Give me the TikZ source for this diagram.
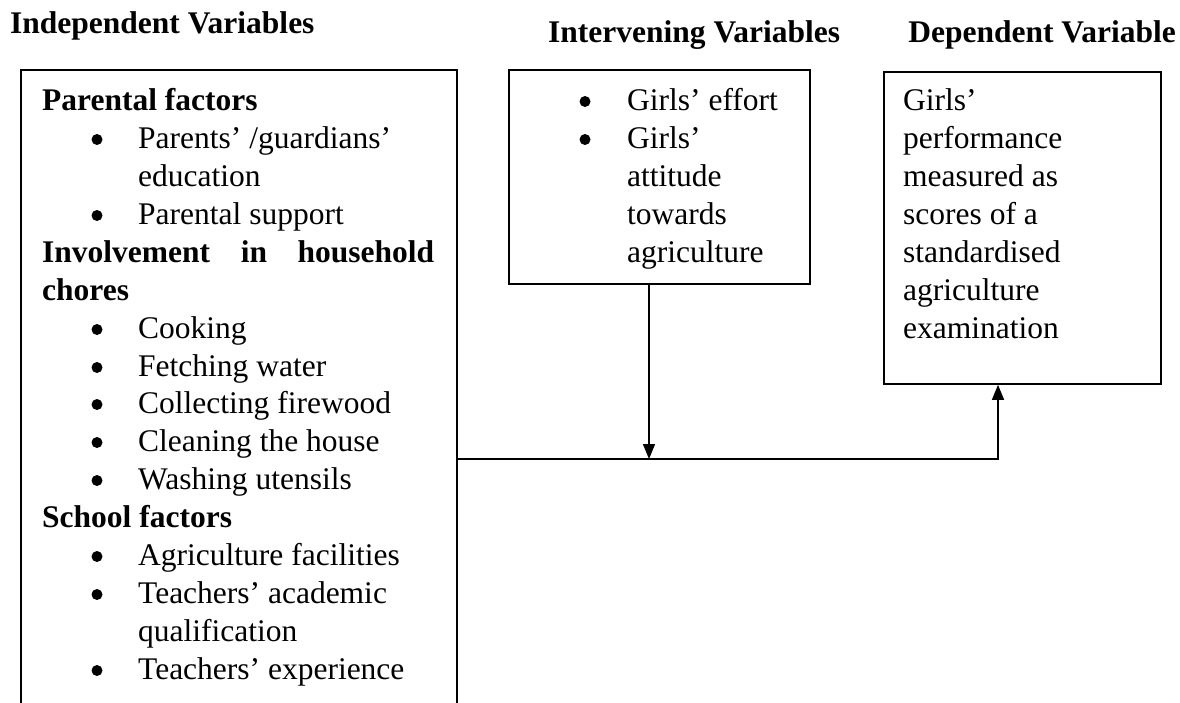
\documentclass[tikz,border=0pt]{standalone}
\usepackage{fontspec}
\setmainfont{Liberation Serif}
\usetikzlibrary{arrows.meta}
\begin{document}
\begin{tikzpicture}[x=1pt,y=-1pt,
  box/.style={draw, line width=1.8pt, inner sep=0pt},
  txt/.style={anchor=base west, inner sep=0pt, font=\fontsize{31.5}{38}\selectfont},
  hd/.style={anchor=base west, inner sep=0pt, font=\fontsize{31.5}{38}\selectfont\bfseries},
  bul/.style={circle, fill, inner sep=0pt, minimum size=11pt, yshift=8.5pt},
  conn/.style={line width=1.4pt, -{Triangle[length=15pt,width=12pt]}}
]
\useasboundingbox (0,0) rectangle (1180,702);
\clip (0,0) rectangle (1180,702);

% titles
\node[hd] (t1) at (10,33) {Independent Variables};
\node[hd] (t2) at (548,42) {Intervening Variables};
\node[hd, anchor=base east] (t3) at (1176,42) {Dependent Variable};

% boxes
\node[box, minimum width=436pt, minimum height=660pt, anchor=north west] (indep) at (20,69) {};
\node[box, minimum width=301pt, minimum height=214pt, anchor=north west] (interv) at (508,69) {};
\node[box, minimum width=277pt, minimum height=312pt, anchor=north west] (dep) at (883,71) {};

% left box text
\node[hd] (l1) at (42,110) {Parental factors};
\node[bul] (lb2) at (97,148) {};
\node[txt] (l2) at (138,148) {Parents’ /guardians’};
\node[txt] (l3) at (138,186) {education};
\node[bul] (lb4) at (97,224) {};
\node[txt] (l4) at (138,224) {Parental support};
\node[hd] (l5) at (42,262) {\makebox[392pt][s]{Involvement in household}};
\node[hd] (l6) at (42,300) {chores};
\node[bul] (lb7) at (97,338) {};
\node[txt] (l7) at (138,338) {Cooking};
\node[bul] (lb8) at (97,376) {};
\node[txt] (l8) at (138,376) {Fetching water};
\node[bul] (lb9) at (97,413) {};
\node[txt] (l9) at (138,413) {Collecting firewood};
\node[bul] (lb10) at (97,451) {};
\node[txt] (l10) at (138,451) {Cleaning the house};
\node[bul] (lb11) at (97,489) {};
\node[txt] (l11) at (138,489) {Washing utensils};
\node[hd] (l12) at (42,527) {School factors};
\node[bul] (lb13) at (97,565) {};
\node[txt] (l13) at (138,565) {Agriculture facilities};
\node[bul] (lb14) at (97,603) {};
\node[txt] (l14) at (138,603) {Teachers’ academic};
\node[txt] (l15) at (138,641) {qualification};
\node[bul] (lb16) at (97,679) {};
\node[txt] (l16) at (138,679) {Teachers’ experience};

% middle box text
\node[bul] (mb1) at (585,110) {};
\node[txt] (m1) at (627,110) {Girls’ effort};
\node[bul] (mb2) at (585,148) {};
\node[txt] (m2) at (627,148) {Girls’};
\node[txt] (m3) at (627,186) {attitude};
\node[txt] (m4) at (627,224) {towards};
\node[txt] (m5) at (627,262) {agriculture};

% right box text
\node[txt] (r1) at (903,110) {Girls’};
\node[txt] (r2) at (903,148) {performance};
\node[txt] (r3) at (903,186) {measured as};
\node[txt] (r4) at (903,224) {scores of a};
\node[txt] (r5) at (903,262) {standardised};
\node[txt] (r6) at (903,300) {agriculture};
\node[txt] (r7) at (903,338) {examination};

% connectors
\coordinate (j1) at (649,459);
\coordinate (j2) at (998,459);
\draw[conn] (interv.south -| j1) -- (j1);
\draw[conn] (indep.east |- j1) -- (j2) -- (j2 |- dep.south);
\end{tikzpicture}
\end{document}
